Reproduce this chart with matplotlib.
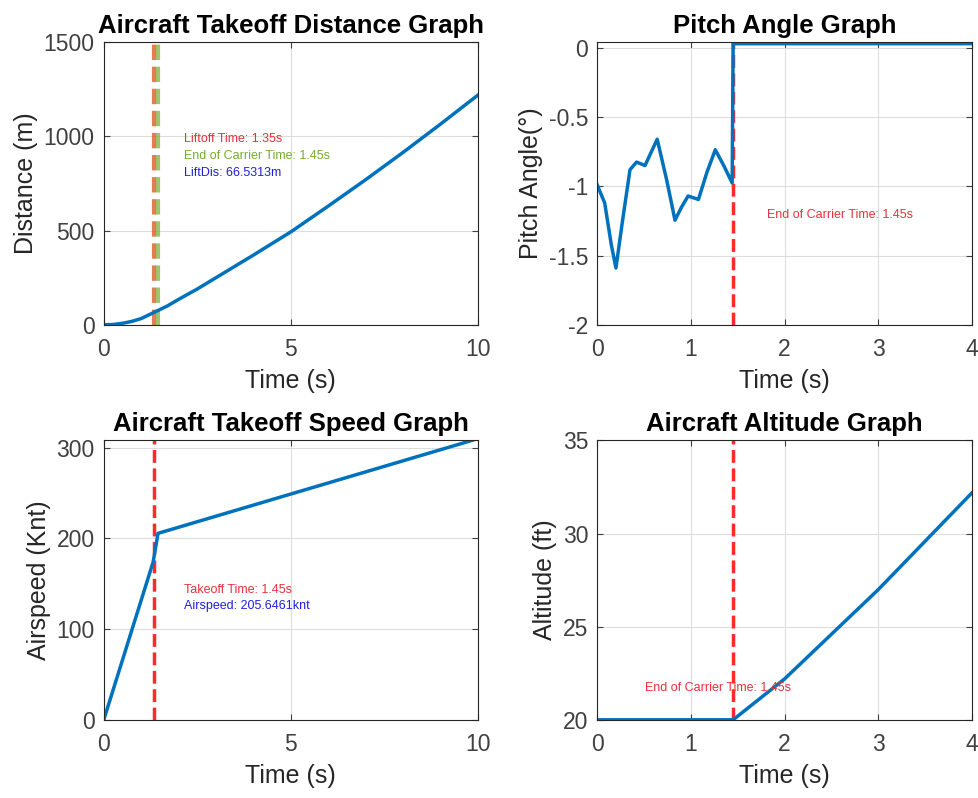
import matplotlib.pyplot as plt
import numpy as np

plt.rcParams['font.family'] = ['Liberation Sans', 'DejaVu Sans']

# Distance vs time
dist_t = [0, 0.25, 0.5, 0.75, 1, 1.35, 1.7, 2, 2.5, 3, 4, 5, 6, 7, 8, 9, 10]
dist_m = [0, 1.5, 8, 18, 33, 66.5, 100, 135, 190, 250, 370, 493, 630, 770, 915, 1065, 1219]

# Pitch angle vs time
pitch_t = [0, 0.08, 0.15, 0.2, 0.27, 0.35, 0.42, 0.51, 0.64, 0.74, 0.83,
           0.9, 0.97, 1.08, 1.17, 1.26, 1.35, 1.44, 1.45, 4]
pitch_deg = [-0.99, -1.12, -1.42, -1.59, -1.25, -0.88, -0.825, -0.85, -0.66,
             -0.95, -1.245, -1.15, -1.07, -1.095, -0.9, -0.736, -0.85, -0.976,
             0.03, 0.03]

# Airspeed vs time
speed_t = [0, 1.32, 1.45, 10]
speed_knt = [0, 174, 205.6, 310]

# Altitude vs time
alt_t = [0, 1.45, 2, 2.5, 3, 3.5, 4]
alt_ft = [20, 20, 22.2, 24.6, 27.0, 29.6, 32.2]

liftoff_time = 1.35
carrier_time = 1.45

blue = '#0072BD'
red = '#FF2A2A'
tick_fs = 16.5
label_fs = 18
title_fs = 18.5
note_fs = 9


def style(ax):
    ax.grid(True, color='#DDDDDD', linewidth=0.8)
    ax.set_axisbelow(True)
    ax.tick_params(direction='in', top=True, right=True, labelsize=tick_fs,
                   colors='#404040', length=4)
    ax.tick_params(axis='x', pad=9.5)
    ax.tick_params(axis='y', pad=6.5)
    ax.xaxis.labelpad = 6
    for s in ax.spines.values():
        s.set_color('#262626')
        s.set_linewidth(0.8)


fig = plt.figure(figsize=(9.79, 7.98), dpi=100)
ax1 = fig.add_axes([0.106, 0.593, 0.382, 0.354])
ax2 = fig.add_axes([0.610, 0.593, 0.383, 0.354])
ax3 = fig.add_axes([0.106, 0.098, 0.382, 0.350])
ax4 = fig.add_axes([0.610, 0.098, 0.383, 0.350])

# Distance: liftoff and end-of-carrier lines overlap into one brownish band
ax1.axvline(carrier_time, color='#77AC30', linestyle='--', linewidth=3, alpha=0.7)
ax1.axvline(liftoff_time, color='#D95319', linestyle='--', linewidth=3, alpha=0.75)
ax1.plot(dist_t, dist_m, color=blue, linewidth=2.5)
ax1.set_xlim(0, 10)
ax1.set_ylim(0, 1500)
ax1.set_xticks([0, 5, 10])
ax1.set_yticks([0, 500, 1000, 1500])
ax1.set_xlabel('Time (s)', fontsize=label_fs, color='#262626')
ax1.set_ylabel('Distance (m)', fontsize=label_fs, color='#262626')
ax1.set_title('Aircraft Takeoff Distance Graph', fontsize=title_fs, fontweight='bold', pad=7)
ax1.text(2.14, 986, 'Liftoff Time: 1.35s', color='#E8323C', fontsize=note_fs, va='center')
ax1.text(2.14, 896, 'End of Carrier Time: 1.45s', color='#77AC30', fontsize=note_fs, va='center')
ax1.text(2.14, 806, 'LiftDis: 66.5313m', color='#2020E0', fontsize=note_fs, va='center')
style(ax1)

# Pitch
ax2.axvline(carrier_time, color=red, linestyle='--', linewidth=2.5)
ax2.plot(pitch_t, pitch_deg, color=blue, linewidth=2.5)
ax2.set_xlim(0, 4)
ax2.set_ylim(-2, 0.04)
ax2.set_xticks([0, 1, 2, 3, 4])
ax2.set_yticks([-2, -1.5, -1, -0.5, 0])
ax2.set_yticklabels(['-2', '-1.5', '-1', '-0.5', '0'])
ax2.set_xlabel('Time (s)', fontsize=label_fs, color='#262626')
ax2.set_ylabel('Pitch Angle(°)', fontsize=label_fs, color='#262626')
ax2.set_title('Pitch Angle Graph', fontsize=title_fs, fontweight='bold', pad=7)
ax2.text(1.81, -1.21, 'End of Carrier Time: 1.45s', color='#E8323C', fontsize=note_fs, va='center')
style(ax2)

# Speed
ax3.axvline(liftoff_time, color=red, linestyle='--', linewidth=2.5)
ax3.plot(speed_t, speed_knt, color=blue, linewidth=2.5)
ax3.set_xlim(0, 10)
ax3.set_ylim(0, 308)
ax3.set_xticks([0, 5, 10])
ax3.set_yticks([0, 100, 200, 300])
ax3.set_xlabel('Time (s)', fontsize=label_fs, color='#262626')
ax3.set_ylabel('Airspeed (Knt)', fontsize=label_fs, color='#262626')
ax3.set_title('Aircraft Takeoff Speed Graph', fontsize=title_fs, fontweight='bold', pad=7)
ax3.text(2.14, 143, 'Takeoff Time: 1.45s', color='#E8323C', fontsize=note_fs, va='center')
ax3.text(2.14, 125, 'Airspeed: 205.6461knt', color='#2020E0', fontsize=note_fs, va='center')
style(ax3)

# Altitude
ax4.axvline(carrier_time, color=red, linestyle='--', linewidth=2.5)
ax4.plot(alt_t, alt_ft, color=blue, linewidth=2.5)
ax4.set_xlim(0, 4)
ax4.set_ylim(20, 35)
ax4.set_xticks([0, 1, 2, 3, 4])
ax4.set_yticks([20, 25, 30, 35])
ax4.set_xlabel('Time (s)', fontsize=label_fs, color='#262626')
ax4.set_ylabel('Altitude (ft)', fontsize=label_fs, color='#262626')
ax4.set_title('Aircraft Altitude Graph', fontsize=title_fs, fontweight='bold', pad=7)
ax4.text(0.51, 21.7, 'End of Carrier Time: 1.45s', color='#E8323C', fontsize=note_fs, va='center')
style(ax4)

fig.savefig('out.png', dpi=100)
